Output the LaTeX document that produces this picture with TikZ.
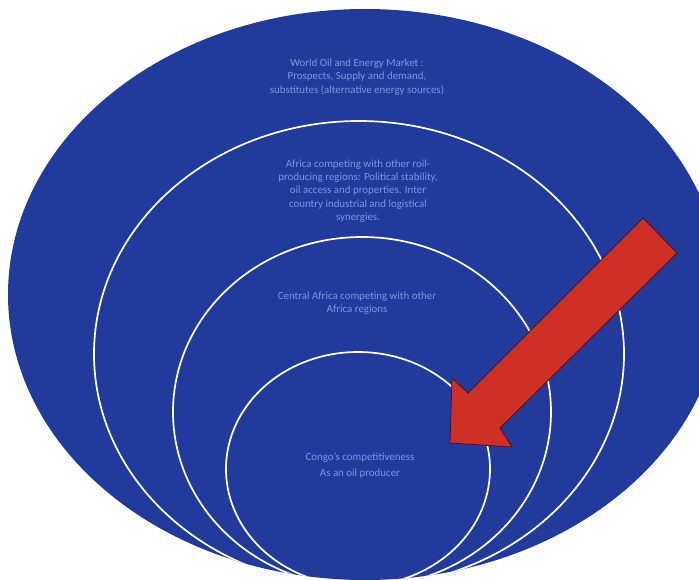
\documentclass[tikz,border=0pt]{standalone}
\usepackage{fontspec}
\setmainfont{Carlito}
\usetikzlibrary{positioning}
\definecolor{ringblue}{RGB}{34,58,156}
\definecolor{labelblue}{RGB}{122,152,230}
\definecolor{arrowred}{RGB}{206,48,38}
\definecolor{arrowedge}{RGB}{70,20,30}

\begin{document}
\begin{tikzpicture}[
			x=1pt, y=-1pt,
			lbl/.style={text=labelblue, align=center, inner sep=0pt, font=\fontsize{10.9}{13.2}\selectfont},
			ring/.style={draw=white, line width=1.7pt},
			bigarrow/.style={fill=arrowred, draw=arrowedge, line width=0.8pt, line join=miter}
		]

		\useasboundingbox (0,0) rectangle (699,580);

		% discs and rings
		\begin{scope}
			\clip (0,0) rectangle (699,580);
			\fill[ringblue] (365,294.5) ellipse [x radius=357pt, y radius=285.5pt];
			\clip (365,294.5) ellipse [x radius=357pt, y radius=285.5pt];
			\draw[ring] (359,354) ellipse [x radius=265pt, y radius=233pt];
			\draw[ring] (362,412) ellipse [x radius=189pt, y radius=175pt];
			\draw[ring] (358,469) ellipse [x radius=132pt, y radius=117pt];
		\end{scope}

		% labels
		\node[lbl] (world) at (357,77) {World Oil and Energy Market :\\Prospects, Supply and demand,\\substitutes (alternative energy sources)};
		\node[lbl] (africa) at (358,191) {Africa competing with other roil-\\producing regions: Political stability,\\oil access and properties. Inter\\country industrial and logistical\\synergies.};
		\node[lbl] (central) at (357,303) {Central Africa competing with other\\Africa regions};
		\node[lbl, font=\fontsize{10.9}{16}\selectfont] (congo) at (360,466) {Congo's competitiveness\\As an oil producer};

		% arrow
		\filldraw[bigarrow] (643,218) -- (677,253) -- (500,428) -- (512,447)
			-- (450,443) -- (452,378) -- (468,393) -- cycle;
	\end{tikzpicture}
\end{document}
